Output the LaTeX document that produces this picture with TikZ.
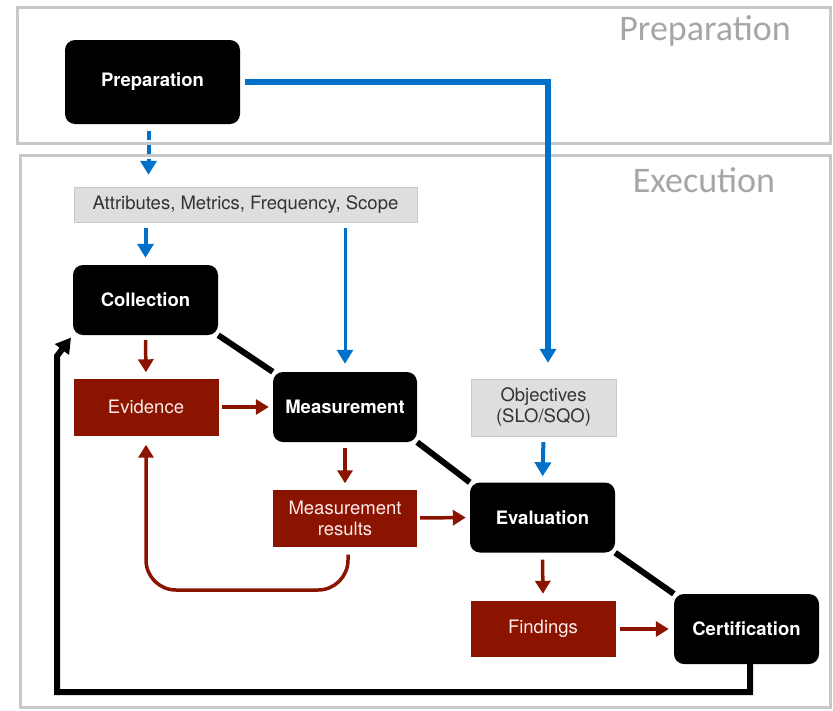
\documentclass[tikz,border=0pt]{standalone}
\usepackage{fontspec}
\setmainfont{TeX Gyre Heros}
\newfontfamily\calibri{Carlito}
\usetikzlibrary{arrows.meta,backgrounds}
\definecolor{bluearr}{RGB}{0,112,200}
\definecolor{darkred}{RGB}{138,20,0}
\definecolor{framegray}{RGB}{200,200,200}
\definecolor{boxgray}{RGB}{222,222,222}
\begin{document}
\begin{tikzpicture}[x=1pt, y=-1pt,
    phase/.style={fill=black, rounded corners=10pt, text=white, font=\fontsize{18.5}{21}\selectfont\bfseries, minimum width=145pt, minimum height=70pt, inner sep=0pt},
    result/.style={fill=darkred, text=red!8, font=\fontsize{18.5}{21}\selectfont, minimum width=145pt, minimum height=57pt, align=center, inner sep=0pt},
    input/.style={fill=boxgray, draw=framegray, text=black!80, font=\fontsize{18.5}{21}\selectfont, minimum height=35pt, align=center, inner sep=0pt},
    frame/.style={draw=framegray, line width=3pt},
    blueline/.style={draw=bluearr, line width=4pt, -{Triangle[width=16pt,length=14pt]}},
    redline/.style={draw=darkred, line width=3.5pt, -{Triangle[width=15pt,length=13pt]}},
    blackline/.style={draw=black, line width=6pt}]
    \useasboundingbox (0,0) rectangle (833,710);
    \draw[frame] (17,7) rectangle (830,143);
    \draw[frame] (20,155) rectangle (830,707);
    \node[text=black!35, font=\calibri\fontsize{36}{40}\selectfont] (preplabel) at (705,31) {Preparation};
    \node[text=black!35, font=\calibri\fontsize{36}{40}\selectfont] (execlabel) at (704,180) {Execution};
    \node[phase, minimum width=175pt, minimum height=84pt] (prep) at (152.5,82) {Preparation};
    \node[input, minimum width=343pt] (attr) at (245.5,204.5) {Attributes, Metrics, Frequency, Scope};
    \node[phase] (coll) at (145.5,300) {Collection};
    \node[result] (evid) at (146,407) {Evidence};
    \node[phase, minimum width=144pt] (meas) at (345,407) {Measurement};
    \node[result, minimum width=144pt] (mres) at (345,518) {Measurement\\results};
    \node[input, minimum width=145pt, minimum height=57pt] (obj) at (543.5,407.5) {Objectives\\(SLO/SQO)};
    \node[phase] (eval) at (542.5,517.5) {Evaluation};
    \node[result, minimum height=56pt] (find) at (543,629) {Findings};
    \node[phase] (cert) at (746.5,629) {Certification};
    \coordinate (redloop) at (348,590);
    \coordinate (blackloop) at (57,692);
    \coordinate (blackup) at (57,356);
    \begin{scope}[on background layer]
    \draw[blackline] (coll.south east) -- (meas.north west); %Kette
    \draw[blackline] (meas.south east) -- (eval.north west);
    \draw[blackline] (eval.south east) -- (cert.north west);
    \end{scope}
    \draw[blueline, dashed, dash pattern=on 9pt off 5pt, shorten <=7pt, shorten >=12pt] ([xshift=-4pt]prep.south) -- ([xshift=-4pt]prep.south |- attr.north);
    \draw[blueline, shorten <=5pt, shorten >=16pt, line width=5.5pt] (prep.east) -| ([xshift=4.5pt]obj.north);
    \draw[blueline, shorten <=6pt, shorten >=7pt] (coll.north |- attr.south) -- (coll.north);
    \draw[blueline, shorten <=6pt, shorten >=8pt, line width=3pt] (meas.north |- attr.south) -- (meas.north);
    \draw[blueline, shorten <=6pt, shorten >=6pt] (obj.south) -- (eval.north);
    \draw[redline, shorten <=5pt, shorten >=6pt] (coll.south) -- (evid.north);
    \draw[redline, shorten <=3pt, shorten >=4pt] (evid.east) -- (meas.west);
    \draw[redline, shorten <=6pt, shorten >=6pt] (meas.south) -- (mres.north);
    \draw[redline, shorten <=3pt, shorten >=4pt] (mres.east) -- (eval.west);
    \draw[redline, shorten <=7pt, shorten >=7pt] (eval.south) -- (find.north);
    \draw[redline, shorten <=4pt, shorten >=5pt] (find.east) -- (cert.west);
    \draw[redline, rounded corners=30pt, shorten <=8pt, shorten >=9pt] (mres.south -| redloop) -- (redloop) -- (redloop -| evid.south) -- (evid.south); %Rueckkopplung
    \draw[blackline, -{Triangle[width=17pt,length=15pt]}, shorten >=3pt] ([xshift=3.5pt]cert.south) |- (blackloop) -- (blackup) -- (coll.south west);
\end{tikzpicture}
\end{document}
